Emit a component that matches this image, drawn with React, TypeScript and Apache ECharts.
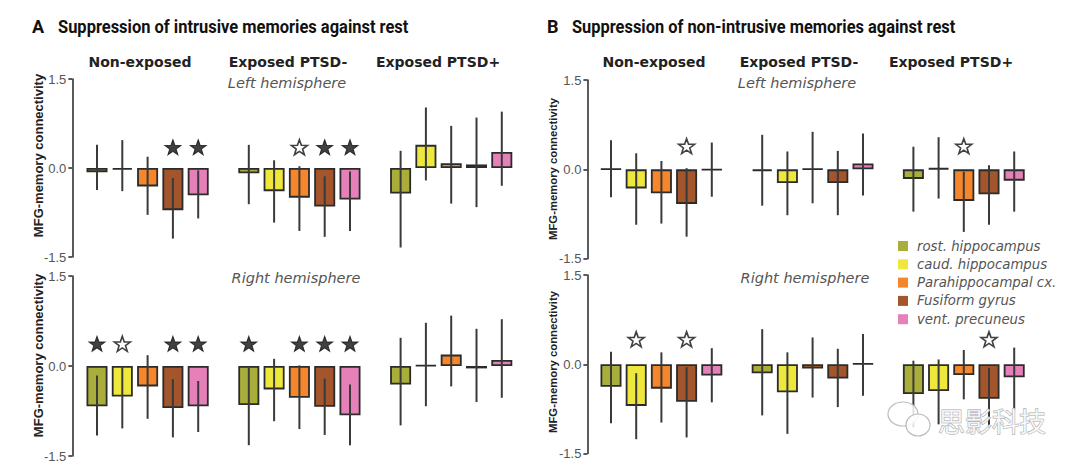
import React, { useEffect, useRef } from "react";
import * as echarts from "echarts";

// ---------- data ----------
const regions = ["rost. hippocampus", "caud. hippocampus", "Parahippocampal cx.", "Fusiform gyrus", "vent. precuneus"];
const regionColors = ["#a9ae3b", "#efe83c", "#f5862b", "#a3552c", "#e680b9"];
const groups = ["Non-exposed", "Exposed PTSD-", "Exposed PTSD+"];
const yTickValues = [-1.5, 0, 1.5];

// star codes: 0 none, 1 filled, 2 open
// A, left hemisphere
const aLeftMean = [-0.07, -0.03, -0.31, -0.71, -0.46, -0.09, -0.39, -0.5, -0.65, -0.53, -0.43, 0.39, 0.08, 0.06, 0.27];
const aLeftLo = [-0.37, -0.39, -0.79, -1.19, -0.85, -0.61, -0.92, -1.06, -1.16, -1.06, -1.34, -0.21, -0.6, -0.66, -0.3];
const aLeftHi = [0.39, 0.47, 0.19, -0.17, -0.04, 0.39, 0.13, 0.03, -0.14, -0.06, 0.29, 1.02, 0.71, 0.85, 0.95];
const aLeftStars = [0, 0, 0, 1, 1, 0, 0, 2, 1, 1, 0, 0, 0, 0, 0];
// A, right hemisphere
const aRightMean = [-0.67, -0.51, -0.34, -0.7, -0.67, -0.65, -0.39, -0.53, -0.68, -0.82, -0.31, 0.01, 0.19, -0.04, 0.1];
const aRightLo = [-1.16, -1.04, -0.88, -1.19, -1.1, -1.32, -0.92, -1.05, -1.15, -1.32, -0.99, -0.67, -0.34, -0.6, -0.53];
const aRightHi = [-0.16, -0.01, 0.18, -0.22, -0.25, -0.03, 0.12, 0.01, -0.21, -0.31, 0.47, 0.72, 0.84, 0.62, 0.78];
const aRightStars = [1, 2, 0, 1, 1, 1, 0, 1, 1, 1, 0, 0, 0, 0, 0];
// B, left hemisphere
const bLeftMean = [0.01, -0.32, -0.4, -0.58, -0.01, -0.03, -0.23, 0.01, -0.23, 0.1, -0.16, 0.02, -0.53, -0.42, -0.19];
const bLeftLo = [-0.47, -0.93, -0.91, -1.13, -0.46, -0.61, -0.77, -0.57, -0.77, -0.44, -0.71, -0.49, -1.05, -0.93, -0.71];
const bLeftHi = [0.49, 0.27, 0.14, 0.02, 0.45, 0.58, 0.3, 0.63, 0.31, 0.6, 0.38, 0.54, -0.04, 0.07, 0.3];
const bLeftStars = [0, 0, 0, 2, 0, 0, 0, 0, 0, 0, 0, 0, 2, 0, 0];
// B, right hemisphere
const bRightMean = [-0.38, -0.7, -0.41, -0.63, -0.19, -0.15, -0.47, -0.07, -0.24, 0.01, -0.5, -0.45, -0.18, -0.58, -0.22];
const bRightLo = [-0.99, -1.26, -0.98, -1.23, -0.64, -0.86, -1.17, -0.56, -0.72, -0.53, -1.06, -1.01, -0.59, -1.07, -0.76];
const bRightHi = [0.21, -0.15, 0.2, -0.05, 0.27, 0.59, 0.2, 0.45, 0.26, 0.51, 0.06, 0.08, 0.24, -0.06, 0.28];
const bRightStars = [0, 2, 0, 2, 0, 0, 0, 0, 0, 0, 0, 0, 0, 2, 0];

const starLevels = [0.35, 0.37, 0.39, 0.42];

const STAR =
  "path://M0,-10L2.35,-3.24L9.51,-3.09L3.8,1.24L5.88,8.09L0,4L-5.88,8.09L-3.8,1.24L-9.51,-3.09L-2.35,-3.24Z";

const panels = [
  { mean: aLeftMean, lo: aLeftLo, hi: aLeftHi, stars: aLeftStars, grid: { left: 84.35, width: 430.1, top: 79, height: 178 }, offset: 12 },
  { mean: aRightMean, lo: aRightLo, hi: aRightHi, stars: aRightStars, grid: { left: 84.35, width: 430.1, top: 276, height: 180 }, offset: 12 },
  { mean: bLeftMean, lo: bLeftLo, hi: bLeftHi, stars: bLeftStars, grid: { left: 598.4, width: 428.4, top: 80, height: 178.7 }, offset: 11 },
  { mean: bRightMean, lo: bRightLo, hi: bRightHi, stars: bRightStars, grid: { left: 598.4, width: 428.4, top: 275, height: 178.5 }, offset: 11 },
];

const SLOTS = 17;
const slotOf = (i: number) => Math.floor(i / 5) * 6 + (i % 5);

function buildOption() {
  const grids: any[] = [];
  const xAxes: any[] = [];
  const yAxes: any[] = [];
  const series: any[] = [];
  const cats = Array.from({ length: SLOTS }, (_, i) => String(i));

  panels.forEach((p, gi) => {
    grids.push({ ...p.grid });
    xAxes.push({ type: "category", gridIndex: gi, data: cats, show: false });
    yAxes.push({
      type: "value",
      gridIndex: gi,
      min: yTickValues[0],
      max: yTickValues[2],
      interval: 1.5,
      offset: p.offset,
      axisLine: { show: true, lineStyle: { color: "#333", width: 1.6 } },
      axisTick: { show: true, length: 4, lineStyle: { color: "#333", width: 1.6 } },
      axisLabel: {
        formatter: (v: number) => v.toFixed(1),
        color: "#555",
        fontSize: 13,
        margin: 6,
        fontFamily: "Liberation Sans",
      },
      splitLine: { show: false },
    });

    regions.forEach((name, r) => {
      const data: any[] = Array(SLOTS).fill("-");
      p.mean.forEach((v, i) => {
        if (i % 5 === r) data[slotOf(i)] = v;
      });
      series.push({
        name,
        type: "bar",
        xAxisIndex: gi,
        yAxisIndex: gi,
        barWidth: 21,
        barGap: "-100%",
        data,
        itemStyle: { color: regionColors[r], borderColor: "#2b2b2b", borderWidth: 1.8 },
        z: 2,
      });
    });

    series.push({
      type: "custom",
      xAxisIndex: gi,
      yAxisIndex: gi,
      z: 3,
      data: p.mean.map((_, i) => [slotOf(i), p.lo[i], p.hi[i]]),
      encode: { x: 0, y: [1, 2] },
      renderItem: (params: any, api: any) => {
        const x = api.value(0);
        const a = api.coord([x, api.value(1)]);
        const b = api.coord([x, api.value(2)]);
        return {
          type: "line",
          shape: { x1: a[0], y1: a[1], x2: b[0], y2: b[1] },
          style: { stroke: "#3a3a3a", lineWidth: 2 },
        };
      },
    });

    const starData: any[] = [];
    p.stars.forEach((s, i) => {
      if (s === 0) return;
      starData.push({
        value: [slotOf(i), starLevels[gi]],
        itemStyle:
          s === 1
            ? { color: "#111", borderColor: "#111", borderWidth: 1 }
            : { color: "#fff", borderColor: "#111", borderWidth: 1.6 },
      });
    });
    series.push({
      type: "scatter",
      xAxisIndex: gi,
      yAxisIndex: gi,
      symbol: STAR,
      symbolSize: [16, 15],
      z: 4,
      data: starData,
    });
  });

  const headerX = [
    [140, 288, 438],
    [654, 799, 951],
  ];
  const graphic: any[] = [];
  const txt = (x: number, y: number, text: string, style: any, extra: any = {}) =>
    graphic.push({
      type: "text",
      x,
      y,
      silent: true,
      z: 10,
      ...extra,
      style: { text, textVerticalAlign: "middle", ...style },
    });

  const titleFont = { fontFamily: "Roboto", fontWeight: "bold", fontSize: 18, fill: "#111" };
  txt(32, 27, "A", { ...titleFont, fontSize: 19, textAlign: "left" }, { scaleX: 0.95 });
  txt(58, 27, "Suppression of intrusive memories against rest", { ...titleFont, textAlign: "left" }, { scaleX: 0.915 });
  txt(547, 27, "B", { ...titleFont, fontSize: 19, textAlign: "left" }, { scaleX: 0.95 });
  txt(572, 27, "Suppression of non-intrusive memories against rest", { ...titleFont, textAlign: "left" }, { scaleX: 0.912 });

  headerX.forEach((row) =>
    row.forEach((x, k) =>
      txt(x, 62, groups[k], { fontFamily: "DejaVu Sans", fontWeight: "bold", fontSize: 14, fill: "#222", textAlign: "center" })
    )
  );
  const hemiStyle = { fontFamily: "DejaVu Sans", fontStyle: "italic", fontSize: 14.5, fill: "#555", textAlign: "center" };
  txt(287, 83, "Left hemisphere", hemiStyle);
  txt(797, 83, "Left hemisphere", hemiStyle);
  txt(296, 278, "Right hemisphere", hemiStyle);
  txt(805, 278, "Right hemisphere", hemiStyle);

  const yNameA = { fontFamily: "Liberation Sans", fontWeight: "bold", fontSize: 13, fill: "#222", textAlign: "center" };
  const yNameB = { ...yNameA, fontSize: 11.3 };
  txt(38, 155.5, "MFG-memory connectivity", yNameA, { rotation: Math.PI / 2 });
  txt(38, 355.5, "MFG-memory connectivity", yNameA, { rotation: Math.PI / 2 });
  txt(553, 169, "MFG-memory connectivity", yNameB, { rotation: Math.PI / 2 });
  txt(553, 362, "MFG-memory connectivity", yNameB, { rotation: Math.PI / 2 });

  // watermark
  graphic.push({
    type: "ellipse",
    silent: true,
    z: 20,
    shape: { cx: 903, cy: 414, rx: 15, ry: 12 },
    style: { fill: "rgba(255,255,255,0.85)", stroke: "#bbb", lineWidth: 1.2 },
  });
  graphic.push({
    type: "ellipse",
    silent: true,
    z: 21,
    shape: { cx: 918, cy: 425, rx: 12, ry: 11 },
    style: { fill: "rgba(255,255,255,0.85)", stroke: "#bbb", lineWidth: 1.2 },
  });
  txt(938, 420, "思影科技", {
    fontFamily: "Noto Sans CJK SC",
    fontSize: 27,
    fill: "rgba(255,255,255,0.75)",
    stroke: "#aaa",
    lineWidth: 1,
    textAlign: "left",
  }, { z: 22 });

  return {
    animation: false,
    backgroundColor: "#fff",
    grid: grids,
    xAxis: xAxes,
    yAxis: yAxes,
    legend: {
      data: regions,
      orient: "vertical",
      left: 893,
      top: 234,
      itemWidth: 10,
      itemHeight: 10,
      itemGap: 4.3,
      icon: "rect",
      itemStyle: { borderWidth: 0 },
      textStyle: {
        fontFamily: "DejaVu Sans",
        fontStyle: "italic",
        fontSize: 13.3,
        lineHeight: 14,
        color: "#555",
        padding: [0, 0, 0, 4],
      },
      selectedMode: false,
    },
    graphic,
    series,
  };
}

export default function App() {
  const ref = useRef<HTMLDivElement>(null);
  useEffect(() => {
    if (!ref.current) return;
    const chart = echarts.init(ref.current, undefined, { renderer: "svg" });
    chart.setOption(buildOption() as any);
    return () => chart.dispose();
  }, []);
  return (
    <div
      ref={ref}
      style={{ position: "absolute", left: 0, top: 0, width: 1080, height: 468, background: "#fff" }}
    />
  );
}
